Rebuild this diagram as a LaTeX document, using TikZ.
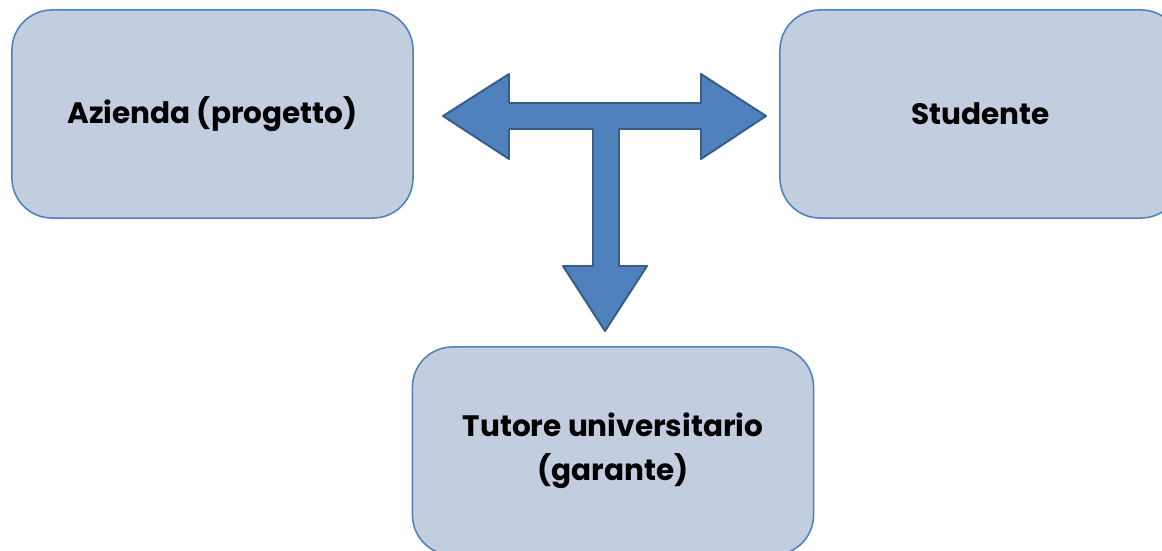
\documentclass[tikz,border=0pt]{standalone}
\usepackage{fontspec}
\setmainfont{Poppins}
\definecolor{boxfill}{HTML}{C3CDE0}
\definecolor{boxline}{HTML}{4F81BD}
\definecolor{arrowfill}{HTML}{4F81BD}
\definecolor{arrowline}{HTML}{385D8A}
\tikzset{
  party/.style={draw=boxline,fill=boxfill,line width=1.1pt,rounded corners=1cm,
    minimum width=10.025cm,minimum height=5.2cm,align=center,
    font=\fontsize{21}{31}\selectfont\bfseries},
  blockarrow/.style={draw=arrowline,fill=arrowfill,line width=1.4pt,line join=round}
}
\begin{document}
\begin{tikzpicture}[x=0.025cm,y=-0.025cm]
        \useasboundingbox (0,0) rectangle (1162,551);
        \clip (0,0) rectangle (1162,551);

        \node[party] (azienda) at (212.5,114) {Azienda (progetto)};
        \node[party] (studente) at (980.5,114) {Studente};
        \node[party] (tutore) at (613,451) {Tutore universitario\\(garante)};

        % freccia a tre vie
        \draw[blockarrow] (443,116) -- (509,74) -- (509,103) -- (701,103) -- (701,74)
          -- (766,116) -- (701,159) -- (701,129) -- (619,129) -- (619,266)
          -- (647,266) -- (605,331) -- (563,266) -- (593,266) -- (593,129)
          -- (509,129) -- (509,159) -- cycle;
      \end{tikzpicture}
\end{document}
